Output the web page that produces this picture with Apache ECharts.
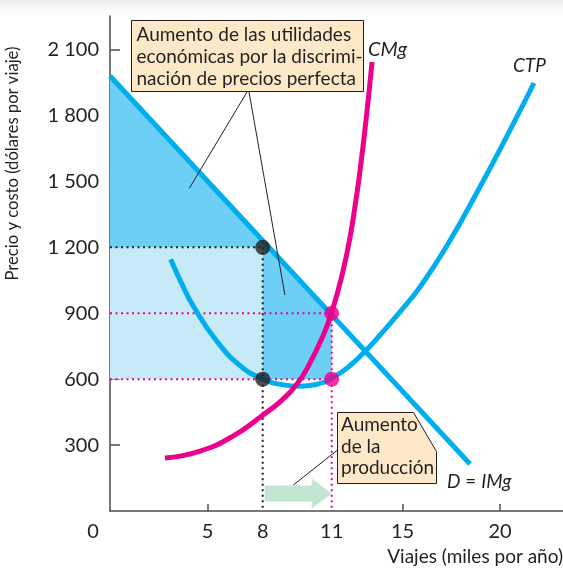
<!DOCTYPE html>
<html><head><meta charset="utf-8">
<script src="https://cdn.jsdelivr.net/npm/echarts@6/dist/echarts.min.js"></script>
<style>html,body{margin:0;padding:0;background:#fff}#c{width:563px;height:570px}</style>
</head><body><div id="c"></div>
<script>
// ---------- data ----------
const xTicks = [0, 5, 15, 20];
const yTicks = [300, 600, 900, 1200, 1500, 1800, 2100];
const yPink = [600, 900];
const qValues = [7.83, 11.37];        // positions of Q = 8 and Q = 11 on the drawn axis
const qLabels = ['8', '11'];
const priceSingle = 1200;             // single price
const priceDisc = 900;                // price where CMg meets D
const atcMin = 600;                   // average total cost at the marked points
const demandX = [0, 18.46];
const demandY = [1980, 214];
const cmgX = [2.82, 4.62, 6.31, 7.85, 8.82, 9.59, 10.26, 10.92, 11.37, 11.90, 12.31, 12.56, 12.82, 13.13, 13.44];
const cmgY = [241, 273, 341, 437, 505, 578, 674, 797, 904, 1074, 1247, 1384, 1548, 1780, 2044];
const ctpX = [3.11, 3.69, 4.27, 5.47, 6.67, 7.78, 8.89, 9.74, 10.56, 11.37, 12.31, 13.16, 13.85, 14.87, 15.90, 17.27, 18.97, 20.68, 21.74];
const ctpY = [1146, 1033, 933, 774, 662, 603, 574, 568, 576, 604, 662, 734, 801, 906, 1020, 1206, 1475, 1762, 1948];
const arrowY = 80;                    // height of the output arrow
const pointer1 = [[4.07, 1469], [8.97, 983]];
const pointer2 = [9.40, 118];

// ---------- styling ----------
const FONT = 'Lato, "Noto Sans", sans-serif';
const DARK = '#231f20';
const MAG = '#ec008c';
const CYAN = '#00aeef';
const FILL_DARK = '#6dcff6';
const FILL_LIGHT = '#c7eaf9';
const BOX = '#fde9c8';

const zip = (xs, ys) => xs.map((x, i) => [x, ys[i]]);
const demandAt = q => demandY[0] + (demandY[1] - demandY[0]) * (q - demandX[0]) / (demandX[1] - demandX[0]);
const q8 = qValues[0], q11 = qValues[1];

const polys = [
  { pts: [[0, atcMin], [q8, atcMin], [q8, priceSingle], [0, priceSingle]], fill: FILL_LIGHT },
  { pts: [[0, priceSingle], [0, demandAt(0)], [q11, demandAt(q11)], [q11, atcMin], [q8, atcMin], [q8, priceSingle]], fill: FILL_DARK }
];

function seg(data, color) {
  return { type: 'line', data, symbol: 'none', silent: true, z: 3,
    lineStyle: { color, width: 2, type: [2, 3.5] } };
}

const chart = echarts.init(document.getElementById('c'));
const option = {
  animation: false,
  backgroundColor: '#fff',
  grid: { left: 110, top: 16, right: 0, bottom: 59, containLabel: false, outerBoundsMode: 'none' },
  xAxis: {
    type: 'value', min: 0, max: 23.23,
    splitLine: { show: false },
    axisLine: { lineStyle: { color: '#4d4d4d', width: 1.5 } },
    axisTick: { inside: true, length: 7, customValues: xTicks.slice(1), lineStyle: { color: '#4d4d4d', width: 1.5 } },
    axisLabel: {
      customValues: xTicks.concat(qValues), margin: 11,
      fontFamily: FONT, fontSize: 20,
      color: v => (v === q11 ? MAG : DARK),
      formatter: v => {
        const i = qValues.indexOf(v);
        if (i >= 0) return qLabels[i];
        if (v === 0) return '{o|0}';
        return String(v);
      },
      rich: { o: { padding: [0, 34, 0, 0], fontFamily: FONT, fontSize: 20, color: DARK } }
    },
    name: 'Viajes (miles por año)', nameLocation: 'end', nameGap: 0,
    nameTextStyle: { fontFamily: FONT, fontSize: 19, color: DARK, align: 'right', verticalAlign: 'top', padding: [36, 0, 0, 0] }
  },
  yAxis: {
    type: 'value', min: 0, max: 2253,
    splitLine: { show: false },
    axisLine: { lineStyle: { color: '#4d4d4d', width: 1.5 } },
    axisTick: { inside: true, length: 10, customValues: yTicks, lineStyle: { color: '#4d4d4d', width: 1.5 } },
    axisLabel: {
      customValues: yTicks, margin: 11,
      fontFamily: FONT, fontSize: 20,
      color: v => (yPink.includes(v) ? MAG : DARK),
      formatter: v => v >= 1000 ? Math.floor(v / 1000) + ' ' + String(v % 1000).padStart(3, '0') : String(v)
    },
    name: 'Precio y costo (dólares por viaje)', nameLocation: 'middle', nameGap: 89,
    nameTextStyle: { fontFamily: FONT, fontSize: 16.6, color: DARK, padding: [0, 0, 0, 200] }
  },
  series: [
    { type: 'custom', silent: true, z: 1,
      data: polys.map((p, i) => [i]),
      renderItem: (params, api) => {
        const p = polys[params.dataIndex];
        return { type: 'polygon', shape: { points: p.pts.map(pt => api.coord(pt)) }, style: { fill: p.fill } };
      } },
    seg([[0, priceSingle], [q8, priceSingle]], DARK),
    seg([[q8, priceSingle], [q8, 0]], DARK),
    seg([[0, priceDisc], [q11, priceDisc]], MAG),
    seg([[0, atcMin], [q11, atcMin]], MAG),
    seg([[q11, priceDisc], [q11, 0]], MAG),
    { type: 'line', name: 'D', data: zip(demandX, demandY), symbol: 'none', z: 4,
      lineStyle: { color: CYAN, width: 5 } },
    { type: 'line', name: 'CTP', data: zip(ctpX, ctpY), symbol: 'none', smooth: 0.5, z: 4,
      lineStyle: { color: CYAN, width: 5 } },
    { type: 'line', name: 'CMg', data: zip(cmgX, cmgY), symbol: 'none', smooth: 0.5, z: 5,
      lineStyle: { color: MAG, width: 5 } },
    { type: 'scatter', z: 6, symbolSize: 15,
      data: [
        { value: [q8, priceSingle], itemStyle: { color: DARK } },
        { value: [q8, atcMin], itemStyle: { color: DARK } },
        { value: [q11, priceDisc], itemStyle: { color: MAG } },
        { value: [q11, atcMin], itemStyle: { color: MAG } }
      ] }
  ]
};
chart.setOption(option);

const px = p => chart.convertToPixel({ gridIndex: 0 }, p);
const a0 = px([q8, arrowY]), a1 = px([q11, arrowY]);
const ax0 = a0[0] + 2, ax1 = a1[0], ay = a0[1];
const headW = 20;
const p1a = px(pointer1[0]), p1b = px(pointer1[1]), p2 = px(pointer2);

const txt = (x, y, text, extra) => ({ type: 'text', z: 20, style: Object.assign({ x, y, text, font: '19px ' + FONT, fill: DARK }, extra || {}) });

chart.setOption({
  graphic: [
    { type: 'rect', z: -1, shape: { x: 0, y: 0, width: 563, height: 22 },
      style: { fill: new echarts.graphic.LinearGradient(0, 0, 0, 1, [{ offset: 0, color: '#ececec' }, { offset: 1, color: 'rgba(255,255,255,0)' }]) } },
    // output arrow
    { type: 'polygon', z: 10, shape: { points: [
        [ax0, ay - 8], [ax1 - headW, ay - 8], [ax1 - headW, ay - 15], [ax1, ay],
        [ax1 - headW, ay + 15], [ax1 - headW, ay + 8], [ax0, ay + 8]] },
      style: { fill: '#c3e6d3' } },
    // pointer lines
    { type: 'line', z: 10, shape: { x1: 247, y1: 92, x2: p1a[0], y2: p1a[1] }, style: { stroke: DARK, lineWidth: 1 } },
    { type: 'line', z: 10, shape: { x1: 249, y1: 92, x2: p1b[0], y2: p1b[1] }, style: { stroke: DARK, lineWidth: 1 } },
    { type: 'line', z: 10, shape: { x1: 337.5, y1: 450, x2: p2[0], y2: p2[1] }, style: { stroke: DARK, lineWidth: 1 } },
    // box 1
    { type: 'rect', z: 11, shape: { x: 131.5, y: 20.5, width: 232, height: 71 },
      style: { fill: BOX, stroke: DARK, lineWidth: 1 } },
    txt(136.5, 24, 'Aumento de las utilidades\neconómicas por la discrimi-\nnación de precios perfecta', { lineHeight: 22, verticalAlign: 'top' }),
    // box 2
    { type: 'polygon', z: 11, shape: { points: [[337.5, 412.5], [413.5, 412.5], [436.5, 451.5], [436.5, 483.5], [337.5, 483.5]] },
      style: { fill: BOX, stroke: DARK, lineWidth: 1 } },
    txt(341, 414, 'Aumento\nde la\nproducción', { lineHeight: 21.7, verticalAlign: 'top' }),
    // curve labels
    txt(368, 50, 'CMg', { font: 'italic 20px ' + FONT, verticalAlign: 'middle' }),
    txt(513, 66, 'CTP', { font: 'italic 19px ' + FONT, verticalAlign: 'middle' }),
    txt(447, 482, '{i|D} = {i|IMg}', { font: '19px ' + FONT, verticalAlign: 'middle',
      rich: { i: { fontStyle: 'italic', fontFamily: FONT, fontSize: 19, fill: DARK } } })
  ]
});
</script></body></html>
